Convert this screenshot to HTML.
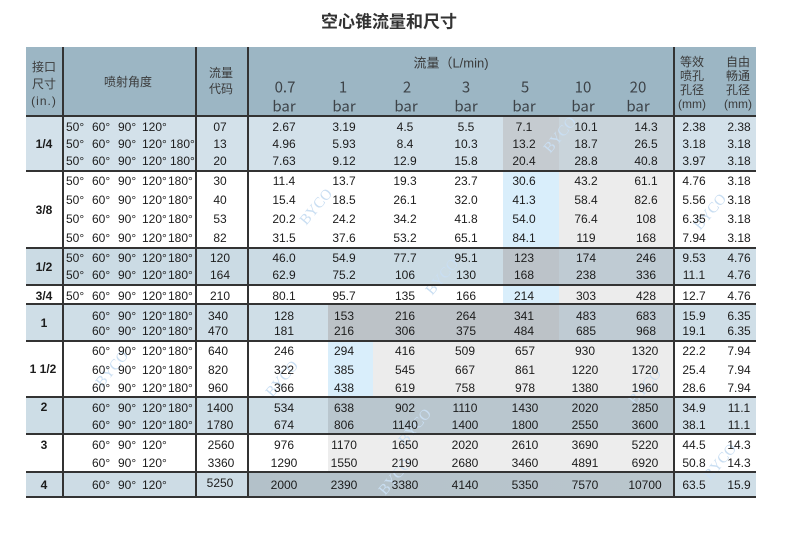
<!DOCTYPE html>
<html><head><meta charset="utf-8">
<style>
html,body{margin:0;padding:0}
body{width:790px;height:544px;background:#fff;position:relative;overflow:hidden}
.r{position:absolute}
.c{position:absolute;transform:translate(-50%,-50%);white-space:nowrap;font:12px/1 "Liberation Sans",Arial,sans-serif;color:#1c1c1c}
.a{position:absolute;transform:translateY(-50%);white-space:nowrap;font:12px/1 "Liberation Sans",Arial,sans-serif;color:#1c1c1c}
.h{position:absolute;transform:translate(-50%,-50%);white-space:nowrap;font:12px/1 "Liberation Sans","Noto Sans CJK SC",sans-serif;color:#3a3a3a}
.hb{position:absolute;transform:translate(-50%,-50%);white-space:nowrap;font:15px/1 "Noto Sans CJK SC","Liberation Sans",sans-serif;color:#3d4348}
.lb{position:absolute;transform:translate(-50%,-50%);white-space:nowrap;font:bold 12px/1 "Liberation Sans",Arial,sans-serif;color:#1c1c1c}
.hl{position:absolute;left:26px;width:730px;height:2px;background:#333}
.vl{position:absolute;top:47px;height:451px;width:2px;background:#333}
.wm{position:absolute;transform:rotate(-50deg);font:15px/1 "Liberation Serif",serif;color:#c9def2;white-space:nowrap}
</style></head><body>

<div style="position:absolute;left:0;top:22px;width:778px;text-align:center;transform:translateY(-50%);font:bold 17px/1 'Liberation Sans','Noto Sans CJK SC',sans-serif;color:#333">空心锥流量和尺寸</div>

<!-- header -->
<div class="r" style="left:26px;top:47px;width:730px;height:69px;background:#9cb6c4"></div>

<!-- group backgrounds -->
<div class="r" style="left:26px;top:116px;width:477px;height:55px;background:#d3e1ea"></div>
<div class="r" style="left:503px;top:116px;width:56px;height:55px;background:#c5cbd0"></div>
<div class="r" style="left:559px;top:116px;width:115px;height:55px;background:#c9d4db"></div>
<div class="r" style="left:674px;top:116px;width:82px;height:55px;background:#d3e1ea"></div>

<div class="r" style="left:503px;top:171px;width:56px;height:77px;background:#d9eefb"></div>
<div class="r" style="left:559px;top:171px;width:115px;height:77px;background:#ececec"></div>

<div class="r" style="left:26px;top:248px;width:477px;height:37px;background:#cbdbe4"></div>
<div class="r" style="left:503px;top:248px;width:56px;height:37px;background:#bcc3c9"></div>
<div class="r" style="left:559px;top:248px;width:115px;height:37px;background:#bfcbd3"></div>
<div class="r" style="left:674px;top:248px;width:82px;height:37px;background:#cfdee7"></div>

<div class="r" style="left:503px;top:285px;width:56px;height:19px;background:#d9eefb"></div>
<div class="r" style="left:559px;top:285px;width:115px;height:19px;background:#ececec"></div>

<div class="r" style="left:26px;top:304px;width:302px;height:37px;background:#cfdee7"></div>
<div class="r" style="left:328px;top:304px;width:231px;height:37px;background:#bcc2c7"></div>
<div class="r" style="left:559px;top:304px;width:115px;height:37px;background:#bfcbd3"></div>
<div class="r" style="left:674px;top:304px;width:82px;height:37px;background:#cfdee7"></div>

<div class="r" style="left:328px;top:341px;width:45px;height:56px;background:#d9eefb"></div>
<div class="r" style="left:373px;top:341px;width:301px;height:56px;background:#ececec"></div>

<div class="r" style="left:26px;top:397px;width:302px;height:37px;background:#cddde6"></div>
<div class="r" style="left:328px;top:397px;width:346px;height:37px;background:#b9c6ce"></div>
<div class="r" style="left:674px;top:397px;width:82px;height:37px;background:#d0dee7"></div>

<div class="r" style="left:328px;top:434px;width:346px;height:38px;background:#ededed"></div>

<div class="r" style="left:26px;top:472px;width:222px;height:25px;background:#cddce5"></div>
<div class="r" style="left:248px;top:472px;width:426px;height:25px;background:linear-gradient(90deg,#b3c1c9,#bac6cd)"></div>
<div class="r" style="left:674px;top:472px;width:82px;height:25px;background:#cfdee7"></div>

<!-- watermarks -->
<div class="wm" style="left:92px;top:362px">BYCO</div>
<div class="wm" style="left:262px;top:372px">BYCO</div>
<div class="wm" style="left:296px;top:200px">BYCO</div>
<div class="wm" style="left:422px;top:270px">BYCO</div>
<div class="wm" style="left:395px;top:420px">BYCO</div>
<div class="wm" style="left:540px;top:128px">BYCO</div>
<div class="wm" style="left:690px;top:205px">BYCO</div>
<div class="wm" style="left:625px;top:380px">BYCO</div>
<div class="wm" style="left:700px;top:455px">BYCO</div>
<div class="wm" style="left:375px;top:470px">BYCO</div>

<!-- lines -->
<div class="hl" style="top:115px"></div>
<div class="hl" style="top:170px"></div>
<div class="hl" style="top:247px"></div>
<div class="hl" style="top:284px"></div>
<div class="hl" style="top:303px"></div>
<div class="hl" style="top:340px"></div>
<div class="hl" style="top:396px"></div>
<div class="hl" style="top:433px"></div>
<div class="hl" style="top:471px"></div>
<div class="hl" style="top:496px"></div>
<div class="vl" style="left:62px"></div>
<div class="vl" style="left:195px"></div>
<div class="vl" style="left:247px"></div>
<div class="vl" style="left:673px"></div>

<!-- header text -->
<div class="h" style="left:44px;top:67px">接口</div>
<div class="h" style="left:44px;top:84px">尺寸</div>
<div class="h" style="left:44px;top:101px;letter-spacing:1px">(in.)</div>
<div class="h" style="left:128px;top:82px">喷射角度</div>
<div class="h" style="left:221px;top:73px">流量</div>
<div class="h" style="left:221px;top:89px">代码</div>
<div class="h" style="left:451px;top:63px;font-size:13px">流量（L/min)</div>
<div class="hb" style="left:285px;top:87px">0.7</div><div class="hb" style="left:284px;top:106px">bar</div>
<div class="hb" style="left:343px;top:87px">1</div><div class="hb" style="left:344px;top:106px">bar</div>
<div class="hb" style="left:407px;top:87px">2</div><div class="hb" style="left:406px;top:106px">bar</div>
<div class="hb" style="left:466px;top:87px">3</div><div class="hb" style="left:466px;top:106px">bar</div>
<div class="hb" style="left:525px;top:87px">5</div><div class="hb" style="left:524px;top:106px">bar</div>
<div class="hb" style="left:583px;top:87px">10</div><div class="hb" style="left:583px;top:106px">bar</div>
<div class="hb" style="left:638px;top:87px">20</div><div class="hb" style="left:638px;top:106px">bar</div>
<div class="h" style="left:692px;top:62px">等效</div>
<div class="h" style="left:692px;top:76px">喷孔</div>
<div class="h" style="left:692px;top:90px">孔径</div>
<div class="h" style="left:692px;top:104px">(mm)</div>
<div class="h" style="left:738px;top:62px">自由</div>
<div class="h" style="left:738px;top:76px">畅通</div>
<div class="h" style="left:738px;top:90px">孔径</div>
<div class="h" style="left:738px;top:104px">(mm)</div>

<!-- size labels -->
<div class="lb" style="left:44px;top:144px">1/4</div>
<div class="lb" style="left:44px;top:210px">3/8</div>
<div class="lb" style="left:44px;top:267px">1/2</div>
<div class="lb" style="left:44px;top:296px">3/4</div>
<div class="lb" style="left:44px;top:323px">1</div>
<div class="lb" style="left:43px;top:369px">1 1/2</div>
<div class="lb" style="left:44px;top:407px">2</div>
<div class="lb" style="left:44px;top:445px">3</div>
<div class="lb" style="left:44px;top:485px">4</div>

<!-- G1 rows -->
<div class="a" style="left:66px;top:127px">50°</div><div class="a" style="left:92px;top:127px">60°</div><div class="a" style="left:118px;top:127px">90°</div><div class="a" style="left:142px;top:127px">120°</div>
<div class="c" style="left:220px;top:127px">07</div>
<div class="c" style="left:284px;top:127px">2.67</div><div class="c" style="left:344px;top:127px">3.19</div><div class="c" style="left:405px;top:127px">4.5</div><div class="c" style="left:466px;top:127px">5.5</div><div class="c" style="left:524px;top:127px">7.1</div><div class="c" style="left:586px;top:127px">10.1</div><div class="c" style="left:646px;top:127px">14.3</div><div class="c" style="left:694px;top:127px">2.38</div><div class="c" style="left:739px;top:127px">2.38</div>

<div class="a" style="left:66px;top:144px">50°</div><div class="a" style="left:92px;top:144px">60°</div><div class="a" style="left:118px;top:144px">90°</div><div class="a" style="left:142px;top:144px">120°</div><div class="a" style="left:170px;top:144px">180°</div>
<div class="c" style="left:220px;top:144px">13</div>
<div class="c" style="left:284px;top:144px">4.96</div><div class="c" style="left:344px;top:144px">5.93</div><div class="c" style="left:405px;top:144px">8.4</div><div class="c" style="left:466px;top:144px">10.3</div><div class="c" style="left:524px;top:144px">13.2</div><div class="c" style="left:586px;top:144px">18.7</div><div class="c" style="left:646px;top:144px">26.5</div><div class="c" style="left:694px;top:144px">3.18</div><div class="c" style="left:739px;top:144px">3.18</div>

<div class="a" style="left:66px;top:161px">50°</div><div class="a" style="left:92px;top:161px">60°</div><div class="a" style="left:118px;top:161px">90°</div><div class="a" style="left:142px;top:161px">120°</div><div class="a" style="left:170px;top:161px">180°</div>
<div class="c" style="left:220px;top:161px">20</div>
<div class="c" style="left:284px;top:161px">7.63</div><div class="c" style="left:344px;top:161px">9.12</div><div class="c" style="left:405px;top:161px">12.9</div><div class="c" style="left:466px;top:161px">15.8</div><div class="c" style="left:524px;top:161px">20.4</div><div class="c" style="left:586px;top:161px">28.8</div><div class="c" style="left:646px;top:161px">40.8</div><div class="c" style="left:694px;top:161px">3.97</div><div class="c" style="left:739px;top:161px">3.18</div>

<!-- G2 rows -->
<div class="a" style="left:66px;top:181px">50°</div><div class="a" style="left:92px;top:181px">60°</div><div class="a" style="left:118px;top:181px">90°</div><div class="a" style="left:142px;top:181px">120°</div><div class="a" style="left:168px;top:181px">180°</div>
<div class="c" style="left:220px;top:181px">30</div>
<div class="c" style="left:284px;top:181px">11.4</div><div class="c" style="left:344px;top:181px">13.7</div><div class="c" style="left:405px;top:181px">19.3</div><div class="c" style="left:466px;top:181px">23.7</div><div class="c" style="left:524px;top:181px">30.6</div><div class="c" style="left:586px;top:181px">43.2</div><div class="c" style="left:646px;top:181px">61.1</div><div class="c" style="left:694px;top:181px">4.76</div><div class="c" style="left:739px;top:181px">3.18</div>

<div class="a" style="left:66px;top:199.5px">50°</div><div class="a" style="left:92px;top:199.5px">60°</div><div class="a" style="left:118px;top:199.5px">90°</div><div class="a" style="left:142px;top:199.5px">120°</div><div class="a" style="left:168px;top:199.5px">180°</div>
<div class="c" style="left:220px;top:199.5px">40</div>
<div class="c" style="left:284px;top:199.5px">15.4</div><div class="c" style="left:344px;top:199.5px">18.5</div><div class="c" style="left:405px;top:199.5px">26.1</div><div class="c" style="left:466px;top:199.5px">32.0</div><div class="c" style="left:524px;top:199.5px">41.3</div><div class="c" style="left:586px;top:199.5px">58.4</div><div class="c" style="left:646px;top:199.5px">82.6</div><div class="c" style="left:694px;top:199.5px">5.56</div><div class="c" style="left:739px;top:199.5px">3.18</div>

<div class="a" style="left:66px;top:218.5px">50°</div><div class="a" style="left:92px;top:218.5px">60°</div><div class="a" style="left:118px;top:218.5px">90°</div><div class="a" style="left:142px;top:218.5px">120°</div><div class="a" style="left:168px;top:218.5px">180°</div>
<div class="c" style="left:220px;top:218.5px">53</div>
<div class="c" style="left:284px;top:218.5px">20.2</div><div class="c" style="left:344px;top:218.5px">24.2</div><div class="c" style="left:405px;top:218.5px">34.2</div><div class="c" style="left:466px;top:218.5px">41.8</div><div class="c" style="left:524px;top:218.5px">54.0</div><div class="c" style="left:586px;top:218.5px">76.4</div><div class="c" style="left:646px;top:218.5px">108</div><div class="c" style="left:694px;top:218.5px">6.35</div><div class="c" style="left:739px;top:218.5px">3.18</div>

<div class="a" style="left:66px;top:237.5px">50°</div><div class="a" style="left:92px;top:237.5px">60°</div><div class="a" style="left:118px;top:237.5px">90°</div><div class="a" style="left:142px;top:237.5px">120°</div><div class="a" style="left:168px;top:237.5px">180°</div>
<div class="c" style="left:220px;top:237.5px">82</div>
<div class="c" style="left:284px;top:237.5px">31.5</div><div class="c" style="left:344px;top:237.5px">37.6</div><div class="c" style="left:405px;top:237.5px">53.2</div><div class="c" style="left:466px;top:237.5px">65.1</div><div class="c" style="left:524px;top:237.5px">84.1</div><div class="c" style="left:586px;top:237.5px">119</div><div class="c" style="left:646px;top:237.5px">168</div><div class="c" style="left:694px;top:237.5px">7.94</div><div class="c" style="left:739px;top:237.5px">3.18</div>

<!-- G3 rows -->
<div class="a" style="left:66px;top:258px">50°</div><div class="a" style="left:92px;top:258px">60°</div><div class="a" style="left:118px;top:258px">90°</div><div class="a" style="left:142px;top:258px">120°</div><div class="a" style="left:168px;top:258px">180°</div>
<div class="c" style="left:220px;top:258px">120</div>
<div class="c" style="left:284px;top:258px">46.0</div><div class="c" style="left:344px;top:258px">54.9</div><div class="c" style="left:405px;top:258px">77.7</div><div class="c" style="left:466px;top:258px">95.1</div><div class="c" style="left:524px;top:258px">123</div><div class="c" style="left:586px;top:258px">174</div><div class="c" style="left:646px;top:258px">246</div><div class="c" style="left:694px;top:258px">9.53</div><div class="c" style="left:739px;top:258px">4.76</div>

<div class="a" style="left:66px;top:275px">50°</div><div class="a" style="left:92px;top:275px">60°</div><div class="a" style="left:118px;top:275px">90°</div><div class="a" style="left:142px;top:275px">120°</div><div class="a" style="left:168px;top:275px">180°</div>
<div class="c" style="left:220px;top:275px">164</div>
<div class="c" style="left:284px;top:275px">62.9</div><div class="c" style="left:344px;top:275px">75.2</div><div class="c" style="left:405px;top:275px">106</div><div class="c" style="left:466px;top:275px">130</div><div class="c" style="left:524px;top:275px">168</div><div class="c" style="left:586px;top:275px">238</div><div class="c" style="left:646px;top:275px">336</div><div class="c" style="left:694px;top:275px">11.1</div><div class="c" style="left:739px;top:275px">4.76</div>

<!-- G4 row -->
<div class="a" style="left:66px;top:295.5px">50°</div><div class="a" style="left:92px;top:295.5px">60°</div><div class="a" style="left:118px;top:295.5px">90°</div><div class="a" style="left:142px;top:295.5px">120°</div><div class="a" style="left:168px;top:295.5px">180°</div>
<div class="c" style="left:220px;top:296px">210</div>
<div class="c" style="left:284px;top:295.5px">80.1</div><div class="c" style="left:344px;top:295.5px">95.7</div><div class="c" style="left:405px;top:295.5px">135</div><div class="c" style="left:466px;top:295.5px">166</div><div class="c" style="left:524px;top:295.5px">214</div><div class="c" style="left:586px;top:295.5px">303</div><div class="c" style="left:646px;top:295.5px">428</div><div class="c" style="left:694px;top:295.5px">12.7</div><div class="c" style="left:739px;top:295.5px">4.76</div>

<!-- G5 rows -->
<div class="a" style="left:92px;top:315.5px">60°</div><div class="a" style="left:118px;top:315.5px">90°</div><div class="a" style="left:142px;top:315.5px">120°</div><div class="a" style="left:168px;top:315.5px">180°</div>
<div class="c" style="left:218px;top:315.5px">340</div>
<div class="c" style="left:284px;top:315.5px">128</div><div class="c" style="left:344px;top:315.5px">153</div><div class="c" style="left:405px;top:315.5px">216</div><div class="c" style="left:466px;top:315.5px">264</div><div class="c" style="left:524px;top:315.5px">341</div><div class="c" style="left:586px;top:315.5px">483</div><div class="c" style="left:646px;top:315.5px">683</div><div class="c" style="left:694px;top:315.5px">15.9</div><div class="c" style="left:739px;top:315.5px">6.35</div>

<div class="a" style="left:92px;top:331px">60°</div><div class="a" style="left:118px;top:331px">90°</div><div class="a" style="left:142px;top:331px">120°</div><div class="a" style="left:168px;top:331px">180°</div>
<div class="c" style="left:218px;top:331px">470</div>
<div class="c" style="left:284px;top:331px">181</div><div class="c" style="left:344px;top:331px">216</div><div class="c" style="left:405px;top:331px">306</div><div class="c" style="left:466px;top:331px">375</div><div class="c" style="left:524px;top:331px">484</div><div class="c" style="left:586px;top:331px">685</div><div class="c" style="left:646px;top:331px">968</div><div class="c" style="left:694px;top:331px">19.1</div><div class="c" style="left:739px;top:331px">6.35</div>

<!-- G6 rows -->
<div class="a" style="left:92px;top:351px">60°</div><div class="a" style="left:118px;top:351px">90°</div><div class="a" style="left:142px;top:351px">120°</div><div class="a" style="left:168px;top:351px">180°</div>
<div class="c" style="left:218px;top:351px">640</div>
<div class="c" style="left:284px;top:351px">246</div><div class="c" style="left:344px;top:351px">294</div><div class="c" style="left:405px;top:351px">416</div><div class="c" style="left:465px;top:351px">509</div><div class="c" style="left:525px;top:351px">657</div><div class="c" style="left:585px;top:351px">930</div><div class="c" style="left:645px;top:351px">1320</div><div class="c" style="left:694px;top:351px">22.2</div><div class="c" style="left:739px;top:351px">7.94</div>

<div class="a" style="left:92px;top:369.5px">60°</div><div class="a" style="left:118px;top:369.5px">90°</div><div class="a" style="left:142px;top:369.5px">120°</div><div class="a" style="left:168px;top:369.5px">180°</div>
<div class="c" style="left:218px;top:369.5px">820</div>
<div class="c" style="left:284px;top:369.5px">322</div><div class="c" style="left:344px;top:369.5px">385</div><div class="c" style="left:405px;top:369.5px">545</div><div class="c" style="left:465px;top:369.5px">667</div><div class="c" style="left:525px;top:369.5px">861</div><div class="c" style="left:585px;top:369.5px">1220</div><div class="c" style="left:645px;top:369.5px">1720</div><div class="c" style="left:694px;top:369.5px">25.4</div><div class="c" style="left:739px;top:369.5px">7.94</div>

<div class="a" style="left:92px;top:387.5px">60°</div><div class="a" style="left:118px;top:387.5px">90°</div><div class="a" style="left:142px;top:387.5px">120°</div><div class="a" style="left:168px;top:387.5px">180°</div>
<div class="c" style="left:218px;top:387.5px">960</div>
<div class="c" style="left:284px;top:387.5px">366</div><div class="c" style="left:344px;top:387.5px">438</div><div class="c" style="left:405px;top:387.5px">619</div><div class="c" style="left:465px;top:387.5px">758</div><div class="c" style="left:525px;top:387.5px">978</div><div class="c" style="left:585px;top:387.5px">1380</div><div class="c" style="left:645px;top:387.5px">1960</div><div class="c" style="left:694px;top:387.5px">28.6</div><div class="c" style="left:739px;top:387.5px">7.94</div>

<!-- G7 rows -->
<div class="a" style="left:92px;top:407.5px">60°</div><div class="a" style="left:118px;top:407.5px">90°</div><div class="a" style="left:142px;top:407.5px">120°</div><div class="a" style="left:168px;top:407.5px">180°</div>
<div class="c" style="left:220px;top:407.5px">1400</div>
<div class="c" style="left:284px;top:407.5px">534</div><div class="c" style="left:344px;top:407.5px">638</div><div class="c" style="left:405px;top:407.5px">902</div><div class="c" style="left:465px;top:407.5px">1110</div><div class="c" style="left:525px;top:407.5px">1430</div><div class="c" style="left:585px;top:407.5px">2020</div><div class="c" style="left:645px;top:407.5px">2850</div><div class="c" style="left:694px;top:407.5px">34.9</div><div class="c" style="left:739px;top:407.5px">11.1</div>

<div class="a" style="left:92px;top:425px">60°</div><div class="a" style="left:118px;top:425px">90°</div><div class="a" style="left:142px;top:425px">120°</div><div class="a" style="left:168px;top:425px">180°</div>
<div class="c" style="left:220px;top:425px">1780</div>
<div class="c" style="left:284px;top:425px">674</div><div class="c" style="left:344px;top:425px">806</div><div class="c" style="left:405px;top:425px">1140</div><div class="c" style="left:465px;top:425px">1400</div><div class="c" style="left:525px;top:425px">1800</div><div class="c" style="left:585px;top:425px">2550</div><div class="c" style="left:645px;top:425px">3600</div><div class="c" style="left:694px;top:425px">38.1</div><div class="c" style="left:739px;top:425px">11.1</div>

<!-- G8 rows -->
<div class="a" style="left:92px;top:445px">60°</div><div class="a" style="left:118px;top:445px">90°</div><div class="a" style="left:142px;top:445px">120°</div>
<div class="c" style="left:221px;top:445px">2560</div>
<div class="c" style="left:284px;top:445px">976</div><div class="c" style="left:344px;top:445px">1170</div><div class="c" style="left:405px;top:445px">1650</div><div class="c" style="left:465px;top:445px">2020</div><div class="c" style="left:525px;top:445px">2610</div><div class="c" style="left:585px;top:445px">3690</div><div class="c" style="left:645px;top:445px">5220</div><div class="c" style="left:694px;top:445px">44.5</div><div class="c" style="left:739px;top:445px">14.3</div>

<div class="a" style="left:92px;top:462.5px">60°</div><div class="a" style="left:118px;top:462.5px">90°</div><div class="a" style="left:142px;top:462.5px">120°</div>
<div class="c" style="left:221px;top:462.5px">3360</div>
<div class="c" style="left:284px;top:462.5px">1290</div><div class="c" style="left:344px;top:462.5px">1550</div><div class="c" style="left:405px;top:462.5px">2190</div><div class="c" style="left:465px;top:462.5px">2680</div><div class="c" style="left:525px;top:462.5px">3460</div><div class="c" style="left:585px;top:462.5px">4891</div><div class="c" style="left:645px;top:462.5px">6920</div><div class="c" style="left:694px;top:462.5px">50.8</div><div class="c" style="left:739px;top:462.5px">14.3</div>

<!-- G9 row -->
<div class="a" style="left:92px;top:484.5px">60°</div><div class="a" style="left:118px;top:484.5px">90°</div><div class="a" style="left:142px;top:484.5px">120°</div>
<div class="c" style="left:220px;top:483px">5250</div>
<div class="c" style="left:284px;top:484.5px">2000</div><div class="c" style="left:344px;top:484.5px">2390</div><div class="c" style="left:405px;top:484.5px">3380</div><div class="c" style="left:465px;top:484.5px">4140</div><div class="c" style="left:525px;top:484.5px">5350</div><div class="c" style="left:585px;top:484.5px">7570</div><div class="c" style="left:645px;top:484.5px">10700</div><div class="c" style="left:694px;top:484.5px">63.5</div><div class="c" style="left:739px;top:484.5px">15.9</div>

</body></html>
